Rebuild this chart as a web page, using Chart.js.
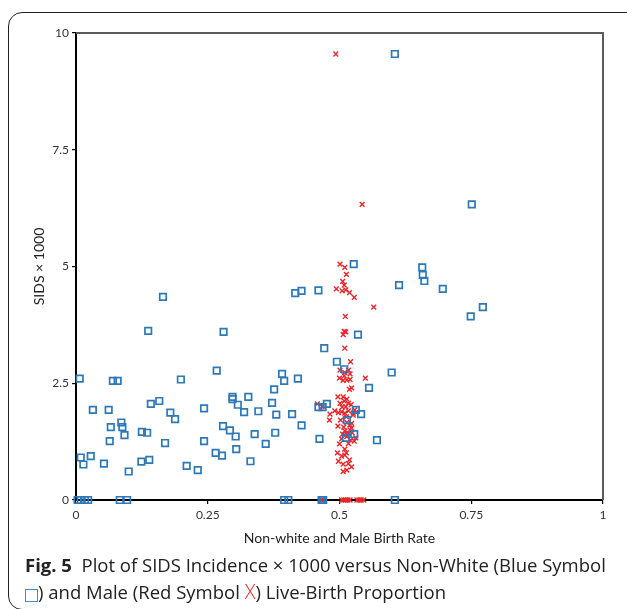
<!DOCTYPE html>
<html>
<head>
<meta charset="utf-8">
<script src="https://cdn.jsdelivr.net/npm/chart.js@4.4.1/dist/chart.umd.min.js"></script>
<style>
  body { margin: 0; background: #fff; width: 627px; height: 609px; overflow: hidden; position: relative; }
  #frame { position: absolute; left: 8px; top: 12px; width: 640px; height: 596px; border: 1.5px solid #222; border-radius: 14px; }
  #chart { position: absolute; left: 0; top: 0; }
  #caption { position: absolute; left: 25px; top: 551px; width: 600px; font-family: "Open Sans", sans-serif; font-size: 18.5px; line-height: 27px; color: #222; white-space: nowrap; }
  #caption b { font-weight: 700; }
  .sq { display: inline-block; width: 11px; height: 11px; border: 1.5px solid #3d8fd6; vertical-align: -3px; }
  .rx { color: #e8262a; font-weight: 300; font-size: 20px; }
</style>
</head>
<body>
<div id="frame"></div>
<canvas id="chart" width="627" height="560"></canvas>
<div id="caption"><b>Fig. 5</b>&nbsp; Plot of SIDS Incidence × 1000 versus Non-White (Blue Symbol<br><span class="sq"></span>) and Male (Red Symbol <span class="rx">X</span>) Live-Birth Proportion</div>
<script>
// tick labels
const xTickValues = [0, 0.25, 0.5, 0.75, 1];
const yTickValues = [0, 2.5, 5, 7.5, 10];

// blue squares - non-white birth proportion vs SIDS x 1000
const blueX = [0.605, 0.751, 0.527, 0.657, 0.658, 0.661, 0.613, 0.696, 0.46, 0.428,
  0.416, 0.165, 0.772, 0.749, 0.137, 0.28, 0.535, 0.471, 0.495, 0.509,
  0.267, 0.599, 0.391, 0.007, 0.199, 0.421, 0.070, 0.079, 0.395, 0.556,
  0.376, 0.297, 0.297, 0.327, 0.158, 0.142, 0.476, 0.307, 0.372, 0.46,
  0.468, 0.032, 0.062, 0.531, 0.243, 0.346, 0.319, 0.179, 0.41, 0.38,
  0.541, 0.188, 0.514, 0.086, 0.428, 0.279, 0.066, 0.088, 0.292, 0.125,
  0.135, 0.378, 0.339, 0.528, 0.092, 0.303, 0.512, 0.462, 0.571, 0.064,
  0.243, 0.169, 0.36, 0.304, 0.265, 0.277, 0.028, 0.009, 0.139, 0.124,
  0.331, 0.053, 0.014, 0.21, 0.231, 0.10,
  0.003, 0.009, 0.017, 0.023, 0.083, 0.097, 0.395, 0.403, 0.466, 0.469, 0.605];
const blueY = [9.55, 6.33, 5.05, 4.98, 4.82, 4.69, 4.6, 4.52, 4.49, 4.48,
  4.43, 4.35, 4.13, 3.93, 3.62, 3.6, 3.54, 3.25, 2.96, 2.8,
  2.77, 2.73, 2.7, 2.6, 2.58, 2.6, 2.55, 2.55, 2.55, 2.4,
  2.37, 2.21, 2.16, 2.21, 2.12, 2.06, 2.06, 2.04, 2.08, 1.99,
  1.99, 1.93, 1.93, 1.93, 1.96, 1.9, 1.88, 1.87, 1.84, 1.83,
  1.84, 1.73, 1.71, 1.66, 1.6, 1.58, 1.56, 1.56, 1.49, 1.46,
  1.44, 1.44, 1.41, 1.41, 1.39, 1.36, 1.33, 1.31, 1.28, 1.26,
  1.26, 1.22, 1.2, 1.09, 1.01, 0.95, 0.94, 0.91, 0.86, 0.82,
  0.83, 0.78, 0.76, 0.73, 0.64, 0.61,
  0, 0, 0, 0, 0, 0, 0, 0, 0, 0, 0];

// red crosses - male birth proportion vs SIDS x 1000
const redX = [0.493, 0.543, 0.501, 0.510, 0.513, 0.506, 0.509, 0.494, 0.505, 0.512,
  0.519, 0.528, 0.565, 0.511, 0.509, 0.512, 0.507, 0.510, 0.521, 0.501,
  0.517, 0.510, 0.520, 0.509, 0.500, 0.549, 0.514, 0.520, 0.507, 0.523,
  0.519, 0.497, 0.507, 0.514, 0.501, 0.517, 0.512, 0.458, 0.467, 0.482,
  0.491, 0.498, 0.504, 0.510, 0.517, 0.526, 0.481, 0.502, 0.514, 0.520,
  0.523, 0.510, 0.517, 0.514, 0.504, 0.528, 0.517, 0.510, 0.496, 0.504,
  0.510, 0.519, 0.507, 0.523, 0.514, 0.507, 0.526, 0.523, 0.520, 0.509,
  0.522, 0.505, 0.529, 0.513, 0.497, 0.508, 0.524, 0.506, 0.515, 0.531,
  0.500, 0.521, 0.513, 0.498, 0.517,
  0.466, 0.470, 0.504, 0.508, 0.512, 0.516, 0.520, 0.533, 0.537, 0.541, 0.546];
const redY = [9.55, 6.33, 5.05, 4.98, 4.83, 4.68, 4.60, 4.52, 4.48, 4.50,
  4.44, 4.34, 4.13, 3.93, 3.61, 3.60, 3.54, 3.25, 2.96, 2.78,
  2.78, 2.73, 2.70, 2.66, 2.61, 2.61, 2.57, 2.58, 2.56, 2.40,
  2.37, 2.21, 2.21, 2.16, 2.07, 2.07, 2.00, 2.06, 2.00, 1.84,
  1.91, 1.87, 1.89, 1.86, 1.91, 1.86, 1.71, 1.71, 1.66, 1.61,
  1.54, 1.48, 1.43, 1.36, 1.31, 1.26, 1.21, 1.09, 1.01, 0.94,
  0.96, 0.86, 0.77, 0.71, 0.64, 0.61, 1.82, 1.64, 1.50, 2.12,
  2.04, 1.99, 1.93, 1.78, 1.58, 1.56, 1.44, 1.41, 1.39, 1.33,
  1.20, 1.28, 1.01, 0.83, 0.78,
  0, 0, 0, 0, 0, 0, 0, 0, 0, 0, 0];

const toPoints = (xs, ys) => xs.map((x, i) => ({ x: x, y: ys[i] }));

// gray frame on top and right of the plot area
const frameLines = {
  id: 'frameLines',
  afterDatasetsDraw(chart) {
    const { ctx, chartArea: a } = chart;
    ctx.save();
    ctx.strokeStyle = '#5a5a5a';
    ctx.lineWidth = 2;
    ctx.beginPath();
    ctx.moveTo(a.left, a.top);
    ctx.lineTo(a.right, a.top);
    ctx.lineTo(a.right, a.bottom);
    ctx.stroke();
    ctx.restore();
  }
};

new Chart(document.getElementById('chart'), {
  type: 'scatter',
  data: {
    datasets: [
      {
        label: 'Non-white',
        data: toPoints(blueX, blueY),
        pointStyle: 'rect',
        radius: 4.6,
        borderColor: '#2e78b8',
        backgroundColor: 'rgba(255,255,255,0)',
        borderWidth: 1.7,
        clip: false
      },
      {
        label: 'Male',
        data: toPoints(redX, redY),
        pointStyle: 'crossRot',
        radius: 3.4,
        borderColor: '#e8262a',
        borderWidth: 1.4,
        clip: false
      }
    ]
  },
  plugins: [frameLines],
  options: {
    responsive: false,
    animation: false,
    layout: { padding: { left: 0, top: 33, right: 24, bottom: 0 } },
    plugins: { legend: { display: false }, tooltip: { enabled: false } },
    scales: {
      x: {
        type: 'linear',
        min: 0,
        max: 1,
        afterBuildTicks: s => { s.ticks = xTickValues.map(v => ({ value: v })); },
        afterFit: s => { s.height = 60; },
        grid: { display: true, drawOnChartArea: false, tickLength: 4, color: '#000', lineWidth: 1.2 },
        border: { display: true, color: '#000', width: 2 },
        ticks: { color: '#333', padding: 4, font: { family: 'Lato', size: 12 }, maxRotation: 0, callback: v => String(v) },
        title: { display: true, text: 'Non-white and Male Birth Rate', color: '#222', font: { family: 'Lato', size: 14 }, padding: { top: 0, bottom: 13 } }
      },
      y: {
        type: 'linear',
        min: 0,
        max: 10,
        afterBuildTicks: s => { s.ticks = yTickValues.map(v => ({ value: v })); },
        afterFit: s => { s.width = 76; },
        grid: { display: true, drawOnChartArea: false, tickLength: 4, color: '#000', lineWidth: 1.2 },
        border: { display: true, color: '#000', width: 2 },
        ticks: { color: '#333', padding: 3, font: { family: 'Lato', size: 12 }, callback: v => String(v) },
        title: { display: true, text: 'SIDS × 1000', color: '#222', font: { family: 'Lato', size: 14 }, padding: { top: 31, bottom: 0 } }
      }
    }
  }
});
</script>
</body>
</html>
